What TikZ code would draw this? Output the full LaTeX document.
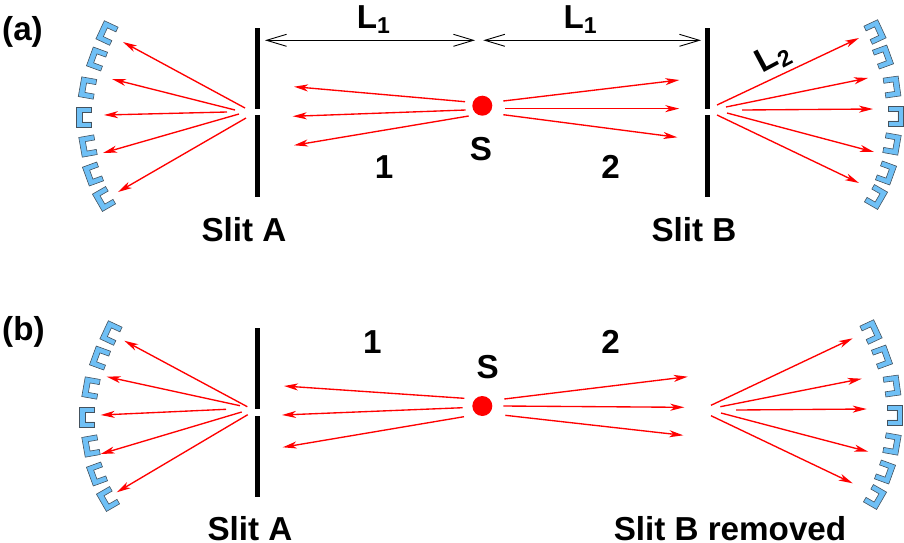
\documentclass[tikz,border=0pt]{standalone}
\usepackage{fontspec}
\setmainfont{Liberation Sans}[BoldFont={Liberation Sans Bold}]
\usetikzlibrary{arrows.meta}
\definecolor{detblue}{HTML}{6FC0F6}
\definecolor{detedge}{HTML}{44525E}
\tikzset{
  ray/.style={draw=red,line width=1.35pt,-{Stealth[length=14pt,width=7pt,inset=4pt]}},
  dim/.style={draw=black,line width=0.9pt,{Straight Barb[length=20pt,width=12pt,line width=0.9pt]}-{Straight Barb[length=20pt,width=12pt,line width=0.9pt]}},
  slitbar/.style={draw=none,fill=black},
  det/.style={draw=detedge,line width=0.6pt,fill=detblue,line join=miter},
  source/.style={circle,fill=red,draw=none,minimum size=20pt,inner sep=0pt},
  lab/.style={font=\fontsize{33.2}{33.2}\selectfont\bfseries,inner sep=0pt,anchor=base}
}
\newcommand{\shot}[3]{%
  \coordinate (#1s) at (#2);
  \coordinate (#1e) at (#3);
  \draw[ray] (#1s) -- (#1e);}
\newcommand{\cupL}[3]{%
  \draw[det,shift={(#1,#2)},rotate=#3]
    (-7.6,-10) -- (7.6,-10) -- (7.6,-4.8) -- (-1.8,-4.8) -- (-1.8,4.8) -- (7.6,4.8) -- (7.6,10) -- (-7.6,10) -- cycle;}
\newcommand{\cupR}[3]{%
  \draw[det,shift={(#1,#2)},rotate=#3,xscale=-1]
    (-7.6,-10) -- (7.6,-10) -- (7.6,-4.8) -- (-1.8,-4.8) -- (-1.8,4.8) -- (7.6,4.8) -- (7.6,10) -- (-7.6,10) -- cycle;}
\newcommand{\subn}[1]{\raisebox{-5pt}{\fontsize{23}{23}\selectfont #1}}
\begin{document}
\begin{tikzpicture}[x=1pt,y=-1pt]
\useasboundingbox (0,0) rectangle (904,542);
% panel labels
\node[lab,anchor=base west] (pa) at (2,40) {(a)};
\node[lab,anchor=base west] (pb) at (2,340) {(b)};
% detectors (a) left
\cupL{107}{33}{-25}\cupL{97}{59}{-20}\cupL{87.5}{88}{-10}\cupL{84}{117}{0}\cupL{88}{146}{10}\cupL{93}{174}{20}\cupL{104}{199}{30}
% detectors (a) right
\cupR{875}{32}{25}\cupR{883}{57}{20}\cupR{892}{87}{8}\cupR{896}{116}{0}\cupR{892}{144}{-10}\cupR{886}{173}{-20}\cupR{876}{197}{-30}
% detectors (b) left
\cupL{111}{333}{-25}\cupL{100}{358}{-20}\cupL{91}{388}{-10}\cupL{87}{417}{0}\cupL{91}{446}{10}\cupL{97}{474}{20}\cupL{108}{499}{30}
% detectors (b) right
\cupR{871}{332}{25}\cupR{882}{357}{20}\cupR{892}{386}{8}\cupR{895}{415}{0}\cupR{892}{444}{-10}\cupR{885}{472}{-20}\cupR{875}{497}{-30}
% slits
\fill[slitbar] (254.8,27.7) rectangle (259.8,108.7);
\fill[slitbar] (254.8,115.3) rectangle (259.8,196.7);
\fill[slitbar] (705.2,27.7) rectangle (710.2,108.7);
\fill[slitbar] (705.2,115.3) rectangle (710.2,196.7);
\fill[slitbar] (254.8,328) rectangle (259.8,409.3);
\fill[slitbar] (254.8,415.7) rectangle (259.8,497);
% sources
\node[source] (sa) at (482.3,105.7) {};
\node[source] (sb) at (482.3,406) {};
% rays (a)
\shot{al1}{245,108}{123,42}
\shot{al2}{235,110}{112,79}
\shot{al3}{227,112}{104,115}
\shot{al4}{239,114}{103,153}
\shot{al5}{246,118}{118,192}
\shot{ar1}{717,105}{859,38}
\shot{ar2}{726,107}{868,78}
\shot{ar3}{742,110}{873,109}
\shot{ar4}{727,113}{874,152}
\shot{ar5}{717,115}{859,183}
\shot{ac1}{465,101.7}{294,86.7}
\shot{ac2}{465.7,110}{292.7,116.3}
\shot{ac3}{468.7,116}{294,145.3}
\shot{ac4}{503.3,101}{679.3,80}
\shot{ac5}{505,108.6}{679.3,108.6}
\shot{ac6}{503.3,114.7}{677.3,137.3}
% rays (b)
\shot{bl1}{247.3,406.7}{124.3,340.7}
\shot{bl2}{240,405.7}{106.7,376.7}
\shot{bl3}{226,409.3}{100.7,415}
\shot{bl4}{241.7,412}{100.7,454}
\shot{bl5}{247.7,414.7}{116.7,492.3}
\shot{br1}{711,405.3}{852.7,338.3}
\shot{br2}{720.3,406.7}{861.7,378.7}
\shot{br3}{736,410}{866.7,409}
\shot{br4}{721,413}{868.3,451.7}
\shot{br5}{711,415.7}{852.7,483.3}
\shot{bc1}{464.3,398.3}{284,386}
\shot{bc2}{462.7,407.7}{282,415}
\shot{bc3}{464,416.7}{282.7,447.3}
\shot{bc4}{504.3,399}{687.7,376.7}
\shot{bc5}{503.3,406}{684.3,407.3}
\shot{bc6}{505.3,415.3}{683.3,435.3}
% dimension arrows
\coordinate (d1) at (265,40.3);
\coordinate (d2) at (475,40.3);
\coordinate (d3) at (483.3,40.3);
\coordinate (d4) at (701,40.3);
\draw[dim] (d1) -- (d2);
\draw[dim] (d3) -- (d4);
% labels
\node[lab,anchor=base west] (l1a) at (356.7,28.3) {L\subn{1}};
\node[lab,anchor=base west] (l1b) at (563.4,28.3) {L\subn{1}};
\node[lab,anchor=center,rotate=28] (l2) at (773,58) {L\subn{2}};
\node[lab] (sla) at (481,160) {S};
\node[lab] (n1a) at (384,178.5) {1};
\node[lab] (n2a) at (610.7,178.5) {2};
\node[lab] (sta) at (244,241) {Slit A};
\node[lab] (stb) at (694,241) {Slit B};
\node[lab] (slb) at (487.7,378.5) {S};
\node[lab] (n1b) at (372.3,353) {1};
\node[lab] (n2b) at (610.7,353) {2};
\node[lab] (stc) at (250,540.5) {Slit A};
\node[lab] (std) at (730,540.5) {Slit B removed};
\end{tikzpicture}
\end{document}
